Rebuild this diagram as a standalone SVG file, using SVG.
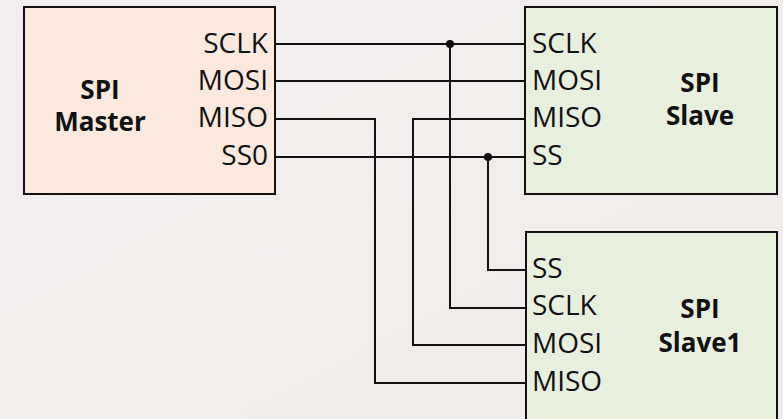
<svg xmlns="http://www.w3.org/2000/svg" width="783" height="419" viewBox="0 0 783 419">
  <defs>
    <linearGradient id="bg" x1="0" y1="0" x2="1" y2="1">
      <stop offset="0" stop-color="#f0eeee"/>
      <stop offset="1" stop-color="#eeebeb"/>
    </linearGradient>
  </defs>
  <style>
    .box { stroke: #111; stroke-width: 2; }
    .master { fill: #fbe9dd; }
    .slave { fill: #e9efdd; }
    .pin { font-family: "Open Sans", "Liberation Sans", sans-serif; font-size: 28px; fill: #111; }
    .title { font-family: "Open Sans", "Liberation Sans", sans-serif; font-size: 26px; font-weight: bold; fill: #111; text-anchor: middle; }
    .wire { fill: none; stroke: #111; stroke-width: 2; }
    .dot { fill: #111; }
  </style>

  <rect width="783" height="419" fill="url(#bg)"/>

  <!-- wiring between master and slaves -->
  <g id="connectors">
    <!-- SCLK -->
    <path class="wire" d="M275 44 H525"/>
    <path class="wire" d="M450 44 V308 H526"/>
    <!-- MOSI -->
    <path class="wire" d="M275 81 H525"/>
    <!-- MISO (master) -->
    <path class="wire" d="M275 119 H375 V383 H526"/>
    <!-- MISO (slave) -->
    <path class="wire" d="M525 119 H413 V345 H526"/>
    <!-- SS0 -->
    <path class="wire" d="M275 157 H525"/>
    <path class="wire" d="M488 157 V270 H526"/>
    <circle class="dot" cx="450" cy="44" r="4"/>
    <circle class="dot" cx="488" cy="157" r="4"/>
  </g>

  <g id="master">
    <rect class="box master" x="24" y="7" width="251" height="187"/>
    <text class="title" x="100" y="99">SPI</text>
    <text class="title" x="100" y="131">Master</text>
    <g class="pin" text-anchor="end">
      <text x="268" y="53">SCLK</text>
      <text x="268" y="90">MOSI</text>
      <text x="268" y="127">MISO</text>
      <text x="268" y="165">SS0</text>
    </g>
  </g>

  <g id="slave">
    <rect class="box slave" x="525" y="7" width="252" height="187"/>
    <text class="title" x="700" y="92">SPI</text>
    <text class="title" x="700" y="125">Slave</text>
    <g class="pin">
      <text x="532" y="53">SCLK</text>
      <text x="532" y="90">MOSI</text>
      <text x="532" y="127">MISO</text>
      <text x="532" y="165">SS</text>
    </g>
  </g>

  <g id="slave1">
    <rect class="box slave" x="526" y="232" width="251" height="200"/>
    <text class="title" x="700" y="318">SPI</text>
    <text class="title" x="700" y="352">Slave1</text>
    <g class="pin">
      <text x="532" y="278">SS</text>
      <text x="532" y="315">SCLK</text>
      <text x="532" y="353">MOSI</text>
      <text x="532" y="391">MISO</text>
    </g>
  </g>
</svg>
